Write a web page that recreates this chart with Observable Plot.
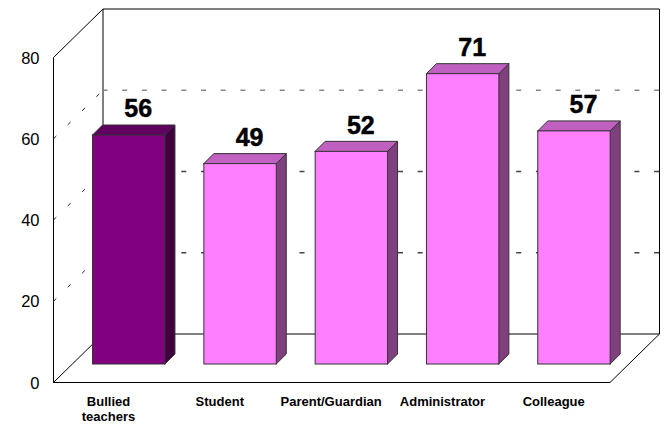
<!DOCTYPE html>
<html><head><meta charset="utf-8">
<style>html,body{margin:0;padding:0;background:#fff}svg{display:block}</style>
<script src="https://cdn.jsdelivr.net/npm/d3@7"></script>
<script src="https://cdn.jsdelivr.net/npm/@observablehq/plot@0.6"></script>
</head><body><div id="chart"></div>
<script>
const categories = ["Bullied\nteachers","Student","Parent/Guardian","Administrator","Colleague"];
const values = [56,49,52,71,57];
const gridValues = [20,40,60];
const axisTicks = [0,20,40,60,80];

// scale geometry
const stepPx = 111.3, unitPx = 325/80;
const xU = px => px/stepPx, yU = px => px/unitPx;
const halfBar = xU(36.2);
const depthX = xU(49.5), depthY = yU(48.5);      // wall depth
const floorX = xU(18), floorY = yU(18);          // bar set back from front
const barDX = xU(10), barDY = yU(10);            // bar depth
const barK = 1.0066;
const xMin = -0.6806, xMax = 4.764 ;

const bars = values.map((v,i)=>({i,v,left:i-halfBar,right:i+halfBar,base:floorY,top:floorY+v*barK}));
const frontCol = d => d.i===0 ? "#800080" : "#ff80ff";
const sideCol  = d => d.i===0 ? "#400040" : "#804080";
const topCol   = d => d.i===0 ? "#600060" : "#c060c0";

const sideRows = bars.flatMap(d=>[
  {...d,sx:d.right,sy1:d.base,sy2:d.top},
  {...d,sx:d.right+barDX,sy1:d.base+barDY,sy2:d.top+barDY}]);
const topRows = bars.flatMap(d=>[
  {...d,ty:d.top,tx1:d.left,tx2:d.right},
  {...d,ty:d.top+barDY,tx1:d.left+barDX,tx2:d.right+barDX}]);

const backL = xMin+depthX, backR = xMax, frontR = xMax-depthX;
const walls = [
  [backL,80+depthY,backR,80+depthY],
  [backL,depthY,backL,80+depthY],
  [backR,depthY,backR,80+depthY],
  [backL,depthY,backR,depthY],
  [xMin,0,xMin,80],
  [xMin,80,backL,80+depthY],
  [xMin,0,backL,depthY],
  [xMin,0,frontR,0],
  [frontR,0,backR,depthY]
].map(([x1,y1,x2,y2])=>({x1,y1,x2,y2}));

const chart = Plot.plot({
  width:671,height:424,marginLeft:53,marginRight:12,marginTop:8,marginBottom:42,
  style:{background:"#fff",fontFamily:"'Liberation Sans',Arial,sans-serif",overflow:"visible"},
  x:{type:"linear",domain:[xMin,xMax],range:[53,659]},
  y:{type:"linear",domain:[0,80],range:[382,57]},
  color:{type:"identity"},
  marks:[
    Plot.link(walls,{x1:"x1",y1:"y1",x2:"x2",y2:"y2",stroke:"#000",strokeWidth:1}),
    Plot.ruleY(gridValues,{y:v=>v+depthY,x1:backL,x2:backR,stroke:v=>v===60?"#888":"#444",strokeWidth:1.4,strokeDasharray:"5,14.7"}),
    Plot.link(gridValues,{x1:xMin,y1:v=>v,x2:backL,y2:v=>v+depthY,stroke:"#222",strokeWidth:1,strokeDasharray:"4,16"}),
    Plot.areaY(sideRows,{x:"sx",y1:"sy1",y2:"sy2",z:"i",fill:sideCol,stroke:"#333",strokeWidth:1}),
    Plot.areaX(topRows,{y:"ty",x1:"tx1",x2:"tx2",z:"i",fill:topCol,stroke:"#333",strokeWidth:1}),
    Plot.rect(bars,{x1:"left",x2:"right",y1:"base",y2:"top",fill:frontCol,stroke:"#333",strokeWidth:1,inset:0}),
    Plot.text(bars,{x:"i",y:"top",text:d=>String(d.v),dx:9,dy:-26.2,lineAnchor:"middle",textAnchor:"middle",fontSize:25,fontWeight:"bold",fill:"#000",stroke:"#000",strokeWidth:0.5}),
    Plot.axisY({ticks:axisTicks,tickSize:0,tickPadding:14,dy:0.8,fontSize:16.5,label:null,fill:"#000"}),
    Plot.axisX({ticks:[0,1,2,3,4],tickFormat:i=>categories[i],tickSize:0,tickPadding:13,dx:-20.75,fontSize:13,fontWeight:"bold",lineHeight:1.15,label:null,fill:"#000",textOverflow:null,style:{letterSpacing:"0.15px"}})
  ]
});
document.getElementById("chart").append(chart);
</script></body></html>
